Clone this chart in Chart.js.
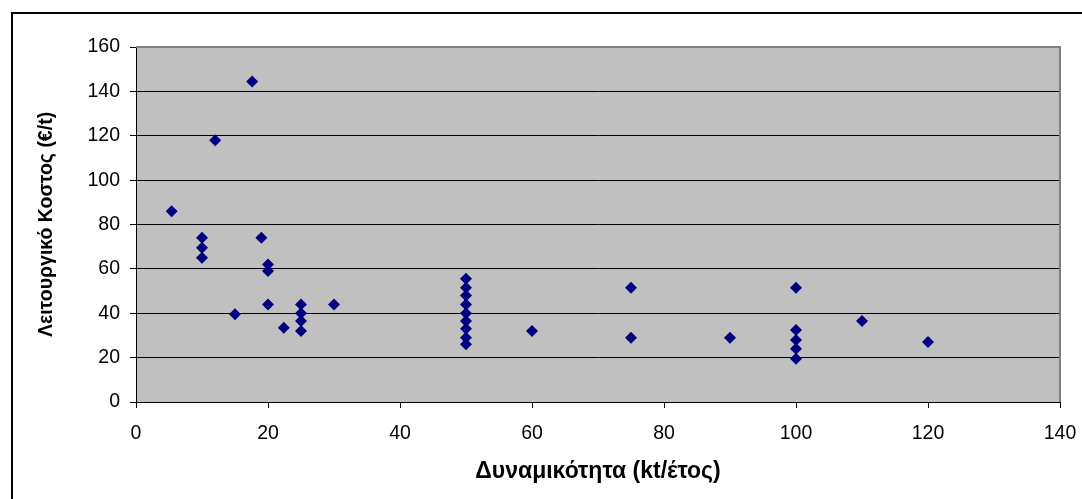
<!DOCTYPE html>
<html><head><meta charset="utf-8">
<script src="https://cdn.jsdelivr.net/npm/chart.js@4"></script>
<style>html,body{margin:0;padding:0;background:#fff;overflow:hidden}#wrap{position:absolute;left:0;top:0;width:1082px;height:499px}</style>
</head><body><div id="wrap"><canvas id="c" width="1082" height="499"></canvas></div>
<script>
// Capacity (kt/year) and operating cost (€/t)
const capacity = [5.4, 10, 10, 10, 12, 15, 17.6, 19, 20, 20, 20, 22.4, 25, 25, 25, 25, 30,
  50, 50, 50, 50, 50, 50, 50, 50, 50, 60, 75, 75, 90, 100, 100, 100, 100, 100, 110, 120];
const cost = [86, 74, 69.5, 65, 118, 39.5, 144.5, 74, 62, 59, 44, 33.5, 44, 40, 36.5, 32, 44,
  55.5, 51.5, 48, 44, 40, 36.5, 33, 29, 26, 32, 51.5, 29, 29, 51.5, 32.5, 28, 24, 19.5, 36.5, 27];
const xTicks = [0, 20, 40, 60, 80, 100, 120, 140];
const yTicks = [0, 20, 40, 60, 80, 100, 120, 140, 160];
const xTitle = 'Δυναμικότητα (kt/έτος)';
const yTitle = 'Λειτουργικό Κοστος (€/t)';

const points = capacity.map((x, i) => ({x: x, y: cost[i]}));

const bgPlugin = {
  id: 'bg',
  beforeDraw(chart) {
    const ctx = chart.ctx, a = chart.chartArea;
    ctx.save();
    ctx.fillStyle = '#fff';
    ctx.fillRect(0, 0, chart.width, chart.height);
    ctx.strokeStyle = '#000';
    ctx.lineWidth = 2;
    ctx.strokeRect(12, 13, 1200, 700);
    ctx.fillStyle = '#c0c0c0';
    ctx.fillRect(a.left, a.top, a.right - a.left, a.bottom - a.top);
    ctx.restore();
  },
  beforeDatasetsDraw(chart) {
    const ctx = chart.ctx, a = chart.chartArea;
    ctx.save();
    ctx.strokeStyle = '#808080';
    ctx.lineWidth = 2;
    ctx.beginPath();
    ctx.moveTo(a.left, a.top);
    ctx.lineTo(a.right, a.top);
    ctx.lineTo(a.right, a.bottom);
    ctx.stroke();
    ctx.restore();
  }
};

const tickFont = {family: '"Liberation Sans", Arial, sans-serif', size: 19.5};
const xTitleFont = {family: '"Liberation Sans", Arial, sans-serif', size: 23, weight: 'bold'};
const yTitleFont = {family: '"Liberation Sans", Arial, sans-serif', size: 19.5, weight: 'bold'};

new Chart(document.getElementById('c'), {
  type: 'scatter',
  data: {
    datasets: [{
      data: points,
      pointStyle: 'rectRot',
      pointRadius: 6,
      pointHoverRadius: 6,
      backgroundColor: '#000080',
      borderColor: '#000080',
      borderWidth: 0
    }]
  },
  options: {
    responsive: false,
    animation: false,
    devicePixelRatio: 1,
    layout: {padding: {top: 47, right: 22, left: 0, bottom: 0}},
    plugins: {legend: {display: false}, tooltip: {enabled: false}},
    scales: {
      x: {
        type: 'linear', min: 0, max: 140,
        afterBuildTicks: s => { s.ticks = xTicks.map(v => ({value: v})); },
        afterFit: s => { s.height = 97; s.paddingLeft = 0; s.paddingRight = 0; },
        ticks: {font: tickFont, color: '#000', padding: 14, maxRotation: 0},
        grid: {drawOnChartArea: false, drawTicks: true, tickLength: 6, color: '#000'},
        border: {color: '#000', width: 1},
        title: {display: true, text: xTitle, font: xTitleFont, color: '#000', padding: {top: 0, bottom: 14}}
      },
      y: {
        type: 'linear', min: 0, max: 160,
        afterBuildTicks: s => { s.ticks = yTicks.map(v => ({value: v})); },
        afterFit: s => { s.width = 136; s.paddingTop = 0; s.paddingBottom = 0; },
        ticks: {font: tickFont, color: '#000', padding: 10},
        grid: {color: '#000', lineWidth: 1, tickLength: 6},
        border: {color: '#000', width: 1},
        title: {display: true, text: yTitle, font: yTitleFont, color: '#000', padding: {top: 35, bottom: 0}}
      }
    }
  },
  plugins: [bgPlugin]
});
</script></body></html>
